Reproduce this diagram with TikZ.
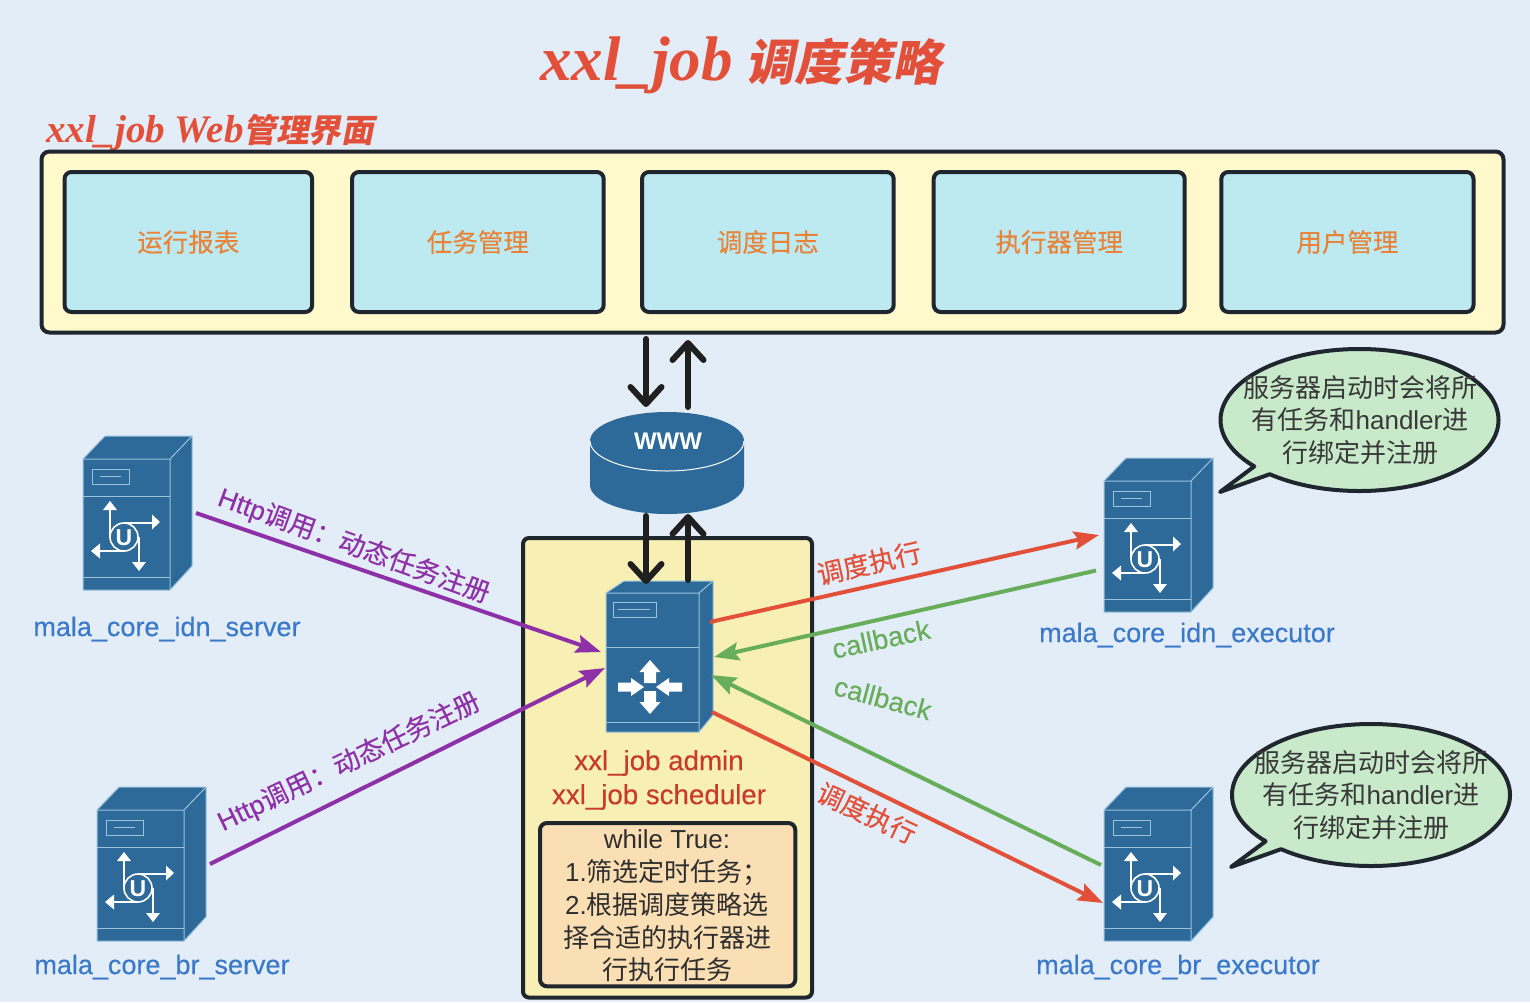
\documentclass[tikz,border=0pt]{standalone}
\usepackage{fontspec}
\setmainfont{Liberation Sans}
\newfontfamily\medfont{Liberation Sans}[FakeBold=0.3]
\newfontfamily\cjk{Noto Sans CJK SC}
\newfontfamily\cjkmed{Noto Sans CJK SC}[FakeBold=0.3]
\newfontfamily\titlefont{Liberation Serif}[ItalicFont={Liberation Serif Italic},BoldItalicFont={Liberation Serif Bold Italic}]
\newfontfamily\titlecjk{Noto Sans CJK SC}[FakeSlant=0.2]
\usepackage{tikz}
\usetikzlibrary{arrows.meta}
\usetikzlibrary{shapes.callouts}

\definecolor{pagebg}{HTML}{E3EDF8}
\definecolor{panelfill}{HTML}{FFF9CC}
\definecolor{modfill}{HTML}{BDEAF0}
\definecolor{darkline}{HTML}{20262E}
\definecolor{titlered}{HTML}{E2503A}
\definecolor{modorange}{HTML}{E8833A}
\definecolor{srvblue}{HTML}{2E6A99}
\definecolor{srvedge}{HTML}{9CC3DA}
\definecolor{namesblue}{HTML}{3A78C9}
\definecolor{admred}{HTML}{C93A2E}
\definecolor{schedfill}{HTML}{F7EFB3}
\definecolor{loopfill}{HTML}{FBDFB4}
\definecolor{notefill}{HTML}{C8E9CA}
\definecolor{purplearrow}{HTML}{8E30A8}
\definecolor{greenarrow}{HTML}{68AD5A}
\definecolor{redarrow}{HTML}{E2503A}

\newcommand{\fs}[1]{\fontsize{#1}{#1}\selectfont}

\tikzset{
    every node/.append style={outer sep=0pt},
    modbox/.style={draw=darkline, line width=4pt, rounded corners=7pt, fill=modfill, anchor=north west, minimum height=140pt, text=modorange, font=\fs{25.5}\cjkmed},
    srvnode/.style={rectangle, inner sep=0pt, minimum width=109pt, minimum height=154pt},
    srvline/.style={draw=srvedge, line width=1pt},
    srvname/.style={text=namesblue, font=\fs{27}\medfont},
    webarrow/.style={draw=black!88, line width=6pt, line cap=round, -{Straight Barb[length=17pt,width=31pt,round]}},
    fillarrow/.style={line width=4pt, -{Stealth[length=25pt,width=18pt,inset=4pt]}},
    speech/.style={ellipse callout, draw=darkline, line width=4pt, line join=round, fill=notefill, minimum width=278pt, minimum height=142pt, inner sep=0pt, callout pointer arc=9},
    notetext/.style={align=center, text=black!78, font=\fs{26}, execute at begin node={\setlength{\baselineskip}{32.7pt}}},
    arrowlabel/.style={font=\fs{26.5}\medfont},
    uicon/.pic={
        \draw[white, line width=1.6pt] (41,78) circle (14);
        \draw[white, line width=1.4pt] (27,50) -- (27,78) (41,64) -- (69,64)
            (17,92) -- (41,92) (56,78) -- (56,103);
        \fill[white] (27,42) -- (20,51) -- (34,51) -- cycle;
        \fill[white] (77,63) -- (69,55.5) -- (69,70.5) -- cycle;
        \fill[white] (8,92) -- (17,84.5) -- (17,99.5) -- cycle;
        \fill[white] (56,112) -- (49,103) -- (63,103) -- cycle;
        \node[white, font=\fs{23}\bfseries] at (41,79) {U};
    }
}

\begin{document}
\begin{tikzpicture}[x=1pt, y=-1pt]
    \useasboundingbox (0,0) rectangle (1530,1002);
    \fill[pagebg] (0,0) rectangle (1530,1002);

    % titles
    \node[text=titlered, anchor=west, inner sep=0pt] (maintitle) at (540,65) {\fs{63}\titlefont\bfseries\itshape xxl\_job\hspace{13pt}{\fs{49}\titlecjk\bfseries 调度策略}};
    \node[text=titlered, anchor=west, inner sep=0pt] (webtitle) at (46,133) {\fs{39}\titlefont\bfseries\itshape xxl\_job Web{\fs{32.5}\titlecjk 管理界面}};

    % web panel
    \node[draw=darkline, line width=4pt, rounded corners=8pt, fill=panelfill, anchor=north west, minimum width=1462pt, minimum height=181pt, inner sep=0pt] (panel) at (41.5,151.5) {};
    \node[modbox, minimum width=247.7pt] (report) at (64.5,172) {运行报表};
    \node[modbox, minimum width=251.7pt] (tasks) at (352,172) {任务管理};
    \node[modbox, minimum width=251.7pt] (logs) at (642,172) {调度日志};
    \node[modbox, minimum width=251pt] (execs) at (933.7,172) {执行器管理};
    \node[modbox, minimum width=252.2pt] (users) at (1221.3,172) {用户管理};

    % scheduler box
    \node[draw=darkline, line width=4pt, rounded corners=6pt, fill=schedfill, anchor=north west, minimum width=289pt, minimum height=459.5pt, inner sep=0pt] (sched) at (523,538) {};

    % www
    \node[srvnode, minimum width=154pt, minimum height=102pt] (www) at (667,463) {};
    \fill[srvblue] (590,441) -- (590,485) arc[start angle=180, end angle=360, x radius=77, y radius=-29] -- (744,441) arc[start angle=0, end angle=180, x radius=77, y radius=-29] -- cycle;
    \draw[white, line width=1pt] (590,441) arc[start angle=180, end angle=360, x radius=77, y radius=-30];
    \node[white, font=\fs{24}\bfseries] (wwwtext) at (668,441) {WWW};

    % servers with the U icon
    \foreach \sx/\sy/\sname in {83/459/idnserver, 97/810/brserver, 1104/481/idnexec, 1104/810/brexec} {
        \begin{scope}[shift={(\sx,\sy)}]
            \node[srvnode] (\sname) at (54.5,54) {};
            \filldraw[fill=srvblue, srvline] (0,0) -- (22,-23) -- (109,-23) -- (109,107) -- (87,131) -- (0,131) -- cycle;
            \draw[srvline] (0,0) -- (87,0) -- (87,131) (87,0) -- (109,-23);
            \draw[srvline] (0,37) -- (87,37) (0,118) -- (87,118);
            \draw[srvline] (9,10) rectangle (46,25) (17,17.5) -- (38,17.5);
            \pic at (0,0) {uicon};
        \end{scope}
    }

    % admin server
    \begin{scope}[shift={(606,593)}]
        \node[srvnode, minimum width=107pt, minimum height=151pt] (admin) at (53.5,63.5) {};
        \filldraw[fill=srvblue, srvline] (0,0) -- (18,-12) -- (107,-12) -- (107,122) -- (93,139) -- (0,139) -- cycle;
        \draw[srvline] (0,0) -- (93,0) -- (93,139) (93,0) -- (107,-12);
        \draw[srvline] (0,54) -- (93,54) (0,129) -- (93,129);
        \draw[srvline] (7,9) rectangle (50,24) (12,16.5) -- (44,16.5);
        \foreach \ang in {0,180} {
            \fill[white, rotate around={\ang:(44,94)}] (44,67) -- (33.5,79) -- (38,79) -- (38,90) -- (50,90) -- (50,79) -- (54.5,79) -- cycle;
            \fill[white, rotate around={\ang:(44,94)}] (38,94) -- (25,85) -- (25,89.5) -- (12,89.5) -- (12,98.5) -- (25,98.5) -- (25,103) -- cycle;
        }
    \end{scope}

    % web arrows
    \draw[webarrow] ([xshift=-21pt,yshift=73pt]www.north) -- ([xshift=-21pt,yshift=5pt]www.north);
    \draw[webarrow] ([xshift=21pt,yshift=5pt]www.north) -- ([xshift=21pt,yshift=72pt]www.north);
    \draw[webarrow] ([xshift=-21pt,yshift=-2pt]www.south) -- ([xshift=-13.5pt,yshift=-3pt]admin.north);
    \draw[webarrow] ([xshift=28.5pt,yshift=1pt]admin.north) -- ([xshift=21pt,yshift=0pt]www.south);

    % calls
    \draw[fillarrow, purplearrow] ([xshift=4pt]idnserver.east) -- ([xshift=-5pt,yshift=4.5pt]admin.west);
    \draw[fillarrow, purplearrow] ([xshift=4pt]brserver.east) -- ([xshift=-1pt,yshift=-11.5pt]admin.west);
    \draw[fillarrow, redarrow] ([xshift=-3pt,yshift=34.5pt]admin.east) -- ([xshift=-5pt]idnexec.west);
    \draw[fillarrow, greenarrow] ([xshift=-8pt,yshift=-35.5pt]idnexec.west) -- ([xshift=1pt,yshift=-0.5pt]admin.east);
    \draw[fillarrow, greenarrow] ([xshift=-3pt,yshift=-1pt]brexec.west) -- ([xshift=-2pt,yshift=-18.5pt]admin.east);
    \draw[fillarrow, redarrow] ([xshift=-1pt,yshift=-55.5pt]admin.east) -- ([xshift=-1pt,yshift=-39pt]brexec.west);

    % arrow labels
    \node[arrowlabel, text=purplearrow, rotate=-20] (calla) at (354,546) {Http{\cjkmed 调用：动态任务注册}};
    \node[arrowlabel, text=purplearrow, rotate=25.5] (callb) at (349,762) {Http{\cjkmed 调用：动态任务注册}};
    \node[arrowlabel, text=redarrow, rotate=13] (runa) at (869,563) {\cjkmed 调度执行};
    \node[arrowlabel, text=redarrow, rotate=-25] (runb) at (867,813) {\cjkmed 调度执行};
    \node[arrowlabel, font=\fs{27.5}\medfont, text=greenarrow, rotate=12] (backa) at (881,639) {callback};
    \node[arrowlabel, font=\fs{27.5}\medfont, text=greenarrow, rotate=-15] (backb) at (883,698) {callback};

    % names
    \node[srvname] (idnservername) at (167,629) {mala\_core\_idn\_server};
    \node[srvname] (brservername) at (162,967) {mala\_core\_br\_server};
    \node[srvname] (idnexecname) at (1187,635) {mala\_core\_idn\_executor};
    \node[srvname] (brexecname) at (1178,967) {mala\_core\_br\_executor};
    \node[text=admred, font=\fs{27.7}\medfont] (adminname) at (659,763) {xxl\_job admin};
    \node[text=admred, font=\fs{27.7}\medfont] (schedname) at (659,797) {xxl\_job scheduler};

    % loop box
    \node[draw=darkline, line width=4pt, rounded corners=7pt, fill=loopfill, anchor=north west, minimum width=255.3pt, minimum height=163.3pt, inner sep=0pt] (loopbox) at (540,823) {};
    \node[notetext, text=black!82] (looptext) at (667,906) {while True:\\1.{\cjk 筛选定时任务；}\\2.{\cjk 根据调度策略选}\\{\cjk 择合适的执行器进}\\{\cjk 行执行任务}};

    % notes
    \node[speech, callout absolute pointer={(1220,492)}] (notea) at (1359.5,420) {};
    \node[notetext] (noteatext) at (1360,420) {{\cjk 服务器启动时会将所}\\{\cjk 有任务和}handler{\cjk 进}\\{\cjk 行绑定并注册}};
    \node[speech, callout absolute pointer={(1231,867)}] (noteb) at (1371,795) {};
    \node[notetext] (notebtext) at (1371,795) {{\cjk 服务器启动时会将所}\\{\cjk 有任务和}handler{\cjk 进}\\{\cjk 行绑定并注册}};
\end{tikzpicture}
\end{document}
